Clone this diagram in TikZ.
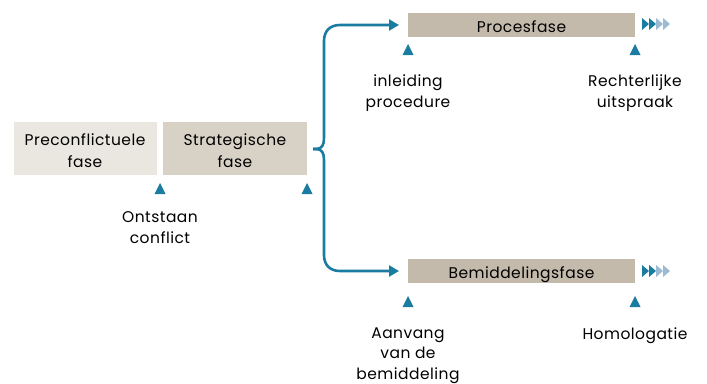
\documentclass[tikz,border=0pt]{standalone}
\usepackage{fontspec}
\setmainfont{Poppins}[LetterSpace=3]
\usetikzlibrary{arrows.meta}
\definecolor{teal1}{HTML}{1A7CA0}
\definecolor{lightb}{HTML}{9CBAD2}
\definecolor{pre}{HTML}{EAE7E0}
\definecolor{strat}{HTML}{D8D2C6}
\definecolor{proc}{HTML}{C4BAAC}
\begin{document}
\begin{tikzpicture}[x=1pt,y=-1pt,
  lbl/.style={font=\fontsize{15.5}{20.5}\selectfont, align=center, anchor=base, inner sep=0pt},
  boxtxt/.style={font=\fontsize{15.5}{22}\selectfont, align=center, inner sep=0pt, anchor=base},
  conn/.style={draw=teal1, line width=2.6pt}]
\useasboundingbox (0,0) rectangle (707,383);
% boxes
\fill[pre] (14,122) rectangle (157,175);
\fill[strat] (163,122) rectangle (307,175);
\fill[proc] (408,13) rectangle (635,37);
\fill[proc] (408,259) rectangle (635,283);
\node[boxtxt] (pre) at (85,167) {Preconflictuele\\fase};
\node[boxtxt] (strat) at (235,167) {Strategische\\fase};
\node[boxtxt] (proc) at (521.5,32) {Procesfase};
\node[boxtxt] (bem) at (521.5,278) {Bemiddelingsfase};
\coordinate (procW) at (408,25);
\coordinate (bemW) at (408,271);
% triangles
\foreach \x/\y in {160/183, 307/183, 408/44, 635/44, 408/296, 635/296}{
  \fill[teal1] (\x-5.5,\y+11) -- (\x+5.5,\y+11) -- (\x,\y) -- cycle;
}
% chevrons
\foreach \y in {24,271}{
  \fill[teal1] (642,\y-6) -- (649,\y) -- (642,\y+6) -- cycle;
  \fill[teal1] (649,\y-6) -- (656,\y) -- (649,\y+6) -- cycle;
  \fill[lightb] (656,\y-6) -- (663,\y) -- (656,\y+6) -- cycle;
  \fill[lightb] (663,\y-6) -- (670,\y) -- (663,\y+6) -- cycle;
}
% brace and arrows
\coordinate (tip) at (313,149);
\draw[conn, -{Triangle[length=10pt,width=11pt]}, shorten >=9pt]
  (tip) -- (316,149) .. controls (322,149) and (324,145) .. (324,138)
  -- (324,41) .. controls (324,31) and (330,25) .. (340,25) -- (procW);
\draw[conn, -{Triangle[length=10pt,width=11pt]}, shorten >=9pt]
  (tip) -- (316,149) .. controls (322,149) and (324,153) .. (324,160)
  -- (324,255) .. controls (324,265) and (330,271) .. (340,271) -- (bemW);
% labels
\node[lbl] (l1) at (160,243) {Ontstaan\\conflict};
\node[lbl] (l2) at (408,107) {inleiding\\procedure};
\node[lbl] (l3) at (635,107) {Rechterlijke\\uitspraak};
\node[lbl] (l4) at (408,379) {Aanvang\\van de\\bemiddeling};
\node[lbl] (l5) at (635,339) {Homologatie};
\end{tikzpicture}
\end{document}
